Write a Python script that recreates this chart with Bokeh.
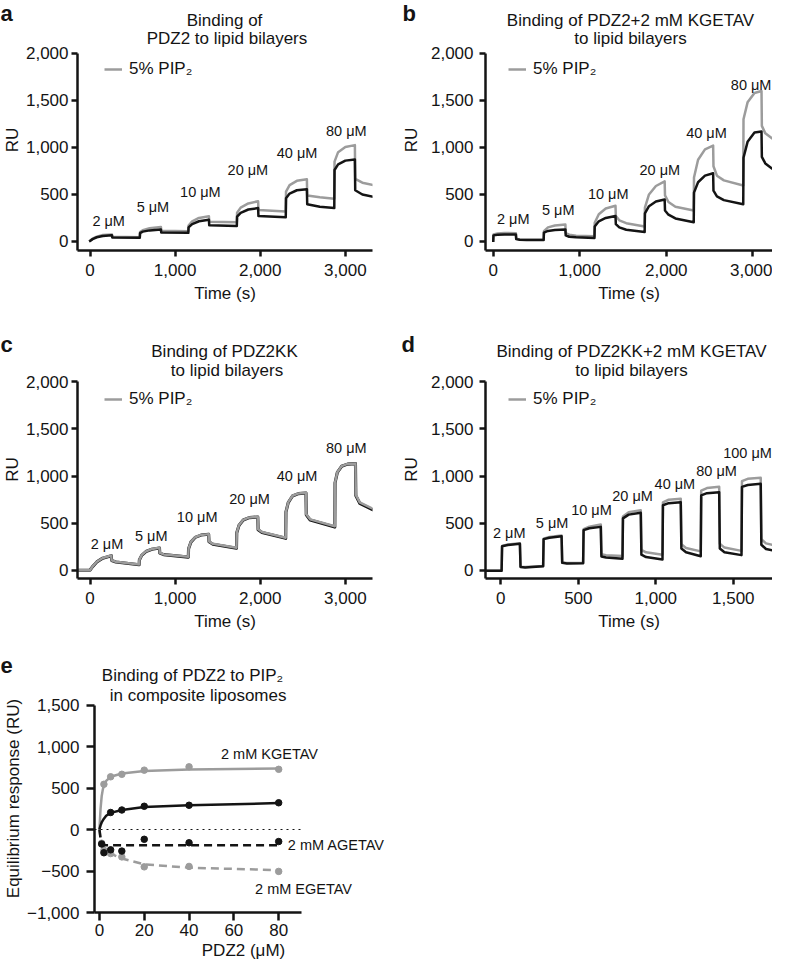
from bokeh.plotting import figure
from bokeh.models import Range1d, FixedTicker, Label, Legend, LegendItem, Title
from bokeh.layouts import column, row
from bokeh.embed import file_html
from bokeh.resources import INLINE

# ---------------- data ----------------
# Panel a: PDZ2 sensorgram (time s, RU)
a_time = [-10, 0, 30, 80, 150, 258, 262, 585, 588, 620, 700, 833, 837, 1155,
          1158, 1200, 1280, 1397, 1401, 1725, 1728, 1770, 1860, 1975, 1979, 2300,
          2303, 2345, 2430, 2548, 2552, 2700, 2870, 2873, 2915, 3000, 3112, 3116,
          3200, 3330]
a_black = [0, 5, 25, 45, 58, 65, 42, 40, 90, 105, 118, 128, 95, 92,
           150, 185, 215, 232, 172, 165, 265, 305, 340, 355, 270, 258,
           460, 510, 545, 555, 395, 370, 355, 760, 820, 860, 872, 545, 500, 475]
a_grey = [0, 8, 30, 52, 68, 75, 50, 45, 100, 120, 140, 155, 115, 110,
          170, 215, 250, 268, 210, 205, 305, 360, 405, 428, 335, 320,
          530, 600, 645, 662, 490, 470, 455, 850, 950, 1005, 1025, 665, 625, 600]

# Panel b: PDZ2 + 2 mM KGETAV
b_time = [0, 3, 50, 130, 262, 266, 306, 386, 583, 586, 633, 713, 834, 838, 878,
          958, 1170, 1173, 1220, 1300, 1413, 1417, 1457, 1537, 1750, 1753, 1800,
          1880, 1981, 1985, 2025, 2105, 2317, 2320, 2367, 2447, 2541, 2545, 2585,
          2665, 2889, 2892, 2939, 3019, 3100, 3104, 3144, 3224, 3330]
b_black = [-5, 65, 72, 75, 75, 25, 18, 15, 15, 95, 112, 122, 128, 65, 50,
           44, 38, 160, 215, 250, 270, 185, 150, 125, 100, 300, 375,
           425, 447, 330, 285, 245, 205, 520, 630, 700, 725, 540, 480,
           440, 395, 890, 1060, 1160, 1170, 900, 830, 775, 735]
b_grey = [-5, 75, 85, 90, 88, 30, 22, 18, 18, 110, 150, 170, 180, 90, 72,
          62, 55, 200, 290, 350, 380, 270, 225, 195, 160, 360, 500,
          590, 640, 490, 420, 370, 330, 680, 870, 980, 1020, 800, 700,
          650, 596, 1300, 1480, 1580, 1600, 1230, 1150, 1095, 1060]

# Panel c: PDZ2KK
c_time = [-140, 0, 3, 30, 80, 150, 250, 254, 304, 577, 580, 607, 657, 727, 816,
          820, 866, 1155, 1158, 1185, 1235, 1305, 1394, 1398, 1444, 1721, 1724,
          1751, 1801, 1871, 1971, 1975, 2021, 2299, 2302, 2329, 2379, 2449, 2537,
          2541, 2587, 2876, 2879, 2906, 2956, 3026, 3119, 3123, 3169, 3330]
c_black = [0, 0, 5, 38, 88, 128, 154, 103, 88, 58, 108, 158, 198, 223, 236,
           182, 165, 139, 228, 298, 348, 373, 381, 302, 276, 234, 398,
           478, 533, 558, 565, 430, 400, 338, 618, 718, 788, 813, 820,
           588, 532, 458, 928, 1038, 1103, 1126, 1131, 792, 710, 638]
c_grey = [0, 0, 5, 40, 90, 130, 156, 105, 90, 60, 110, 160, 200, 225, 238,
          185, 168, 142, 230, 300, 350, 375, 383, 305, 280, 238, 400,
          480, 535, 560, 567, 435, 405, 344, 620, 720, 790, 815, 822,
          595, 540, 467, 930, 1040, 1105, 1128, 1133, 800, 720, 650]

# Panel d: PDZ2KK + 2 mM KGETAV
d_time = [-100, 5, 8, 45, 123, 127, 157, 273, 276, 313, 392, 396, 426, 531, 534,
          571, 645, 649, 679, 785, 788, 825, 903, 907, 937, 1043, 1046, 1083,
          1161, 1165, 1195, 1290, 1293, 1330, 1409, 1413, 1443, 1553, 1556, 1593,
          1677, 1681, 1711, 1806]
d_black = [-5, -5, 255, 268, 280, 35, 30, 42, 330, 345, 361, 78, 72, 75, 425,
           445, 460, 145, 135, 121, 550, 590, 609, 165, 140, 114, 690, 712,
           722, 230, 190, 149, 795, 818, 828, 230, 190, 160, 885, 905,
           917, 270, 225, 191]
d_grey = [-5, -5, 258, 272, 285, 38, 33, 45, 335, 352, 368, 82, 76, 78, 435,
          462, 485, 170, 160, 150, 570, 615, 637, 215, 190, 165, 720, 748,
          758, 275, 235, 200, 845, 872, 885, 280, 240, 205, 945, 970,
          981, 330, 285, 248]

# concentration annotations (time s, RU)
conc_text = ["2 μM", "5 μM", "10 μM", "20 μM", "40 μM", "80 μM"]
conc_text_d = ["2 μM", "5 μM", "10 μM", "20 μM", "40 μM", "80 μM", "100 μM"]
a_lab_t = [219, 739, 1297, 1855, 2433, 3011]
a_lab_ru = [216, 369, 524, 759, 944, 1173]
b_lab_t = [231, 751, 1329, 1925, 2464, 2980]
b_lab_ru = [241, 333, 507, 759, 1156, 1660]
c_lab_t = [200, 720, 1259, 1875, 2433, 3011]
c_lab_ru = [273, 368, 563, 758, 998, 1292]
d_lab_t = [54, 331, 585, 850, 1123, 1392, 1592]
d_lab_ru = [397, 496, 634, 786, 917, 1058, 1239]

# Panel e: equilibrium response vs PDZ2 (μM)
e_k_conc = [2, 5, 10, 20, 40, 80]
e_k_pts = [545, 635, 665, 715, 755, 725]
e_k_fit_x = [0, 0.5, 1, 1.5, 2, 3, 5, 10, 20, 40, 80]
e_k_fit_y = [0, 250, 400, 480, 530, 585, 635, 675, 705, 722, 735]

e_p_conc = [5, 10, 20, 40, 80]
e_p_pts = [205, 235, 280, 292, 322]
e_p_fit_x = [0, 0.5, 1, 2, 3, 5, 10, 20, 40, 80]
e_p_fit_y = [0, 50, 85, 130, 165, 200, 235, 270, 293, 318]

e_a_conc = [1, 2, 5, 10, 20, 40, 80]
e_a_pts = [-175, -280, -245, -260, -118, -160, -145]
e_a_fit_x = [0, 0.5, 1, 2, 80]
e_a_fit_y = [0, -110, -160, -190, -190]

e_e_conc = [1, 2, 5, 10, 20, 40, 80]
e_e_pts = [-165, -250, -290, -330, -450, -445, -505]
e_e_fit_x = [0, 0.5, 1, 2, 5, 10, 20, 40, 80]
e_e_fit_y = [0, -100, -160, -220, -290, -350, -420, -460, -490]

e_zero_x = [-2.2, 90.3]
e_zero_y = [0, 0]

e_names = ["2 mM KGETAV", "2 mM AGETAV", "2 mM EGETAV"]
e_name_x = [75.9, 105.7, 91.1]
e_name_y = [913, -189, -720]

# ticks
ru_ticks = [0, 500, 1000, 1500, 2000]
ru_tick_labels = ["0", "500", "1,000", "1,500", "2,000"]
time_ticks = [0, 1000, 2000, 3000]
time_tick_labels = ["0", "1,000", "2,000", "3,000"]
time_ticks_d = [0, 500, 1000, 1500]
time_tick_labels_d = ["0", "500", "1,000", "1,500"]
e_x_ticks = [0, 20, 40, 60, 80]
e_x_tick_labels = ["0", "20", "40", "60", "80"]
e_y_ticks = [-1000, -500, 0, 500, 1000, 1500]
e_y_tick_labels = ["\u22121,000", "\u2212500", "0", "500", "1,000", "1,500"]

# ---------------- style / layout ----------------
FONT = "Liberation Sans"
BLACK = "#141414"
GREY = "#9c9c9c"
LW = 2.5

# main plot geometry in page pixels (ox, oy = canvas origin); the frame reaches up
# to hold the second title line, the y axis itself stops at its last tick (yb)
GEOM = {
    "a": dict(w=393, h=286, ox=8, oy=30, fl=80, ft=30, fw=300, fh=221,
              xr=(-147, 3319), yr=(-96, 2255), yb=(-96, 2000), ylab_off=-11.5),
    "b": dict(w=379, h=286, ox=401, oy=30, fl=493, ft=30, fw=287, fh=221,
              xr=(-89, 3227), yr=(-96, 2255), yb=(-96, 2000), ylab_off=-11.5),
    "c": dict(w=393, h=279, ox=8, oy=361, fl=80, ft=361, fw=300, fh=218,
              xr=(-147, 3319), yr=(-88, 2226), yb=(-88, 2000), ylab_off=-11),
    "d": dict(w=379, h=279, ox=401, oy=361, fl=493, ft=361, fw=287, fh=218,
              xr=(-99, 1753), yr=(-88, 2226), yb=(-88, 2000), ylab_off=-11),
    "e": dict(w=392, h=276, ox=8, oy=685, fl=98, ft=685, fw=302, fh=228,
              xr=(-2.2, 130.8), yr=(-1000, 1747), yb=(-1000, 1500), ylab_off=-10),
}
# header strips (first title line and panel letter): (width, height, ox, oy)
HEAD = {
    "a": (393, 29, 8, 1),
    "b": (379, 29, 401, 1),
    "c": (393, 45, 8, 316),
    "d": (379, 45, 401, 316),
    "e": (392, 45, 8, 640),
}


def no_align(p):
    try:
        p.frame_align = False
    except Exception:
        pass


def to_data(g, px, py):
    x0, x1 = g["xr"]
    y0, y1 = g["yr"]
    x = x0 + (px - g["fl"]) / g["fw"] * (x1 - x0)
    y = y1 - (py - g["ft"]) / g["fh"] * (y1 - y0)
    return x, y


def base_fig(g):
    left = g["fl"] - g["ox"]
    top = g["ft"] - g["oy"]
    right = g["w"] - left - g["fw"]
    bottom = g["h"] - top - g["fh"]
    p = figure(width=g["w"], height=g["h"],
               x_range=Range1d(*g["xr"]), y_range=Range1d(*g["yr"]),
               output_backend="svg", toolbar_location=None, tools="",
               min_border_left=left, min_border_right=right,
               min_border_top=top, min_border_bottom=bottom)
    p.grid.visible = False
    p.outline_line_color = None
    p.background_fill_color = "white"
    p.border_fill_color = "white"
    no_align(p)
    return p


def style_axis(ax, ticks, labels, label, tick_out, std, lab_std):
    ax.ticker = FixedTicker(ticks=ticks)
    ax.major_label_overrides = {t: s for t, s in zip(ticks, labels)}
    ax.axis_label = label
    ax.axis_line_width = LW
    ax.axis_line_color = BLACK
    ax.major_tick_line_width = LW
    ax.major_tick_line_color = BLACK
    ax.major_tick_out = tick_out
    ax.major_tick_in = 0
    ax.minor_tick_line_color = None
    ax.major_label_text_font = FONT
    ax.major_label_text_font_size = "17px"
    ax.major_label_text_color = BLACK
    ax.major_label_standoff = std
    ax.axis_label_text_font = FONT
    ax.axis_label_text_font_size = "17px"
    ax.axis_label_text_font_style = "normal"
    ax.axis_label_text_color = BLACK
    ax.axis_label_standoff = lab_std


def side_title(p, text, side, offset, standoff):
    p.add_layout(Title(text=text, align="center", offset=offset, standoff=standoff,
                       text_font=FONT, text_font_size="17px", text_font_style="normal",
                       text_color=BLACK), side)


def text_label(p, x, y, s, size="17px", align="center", bold=False):
    p.add_layout(Label(x=x, y=y, text=s, text_font=FONT, text_font_size=size,
                       text_color=BLACK, text_align=align, text_baseline="middle",
                       text_font_style="bold" if bold else "normal"))


def header(key, title, title_pos, letter, letter_pos):
    w, h, ox, oy = HEAD[key]
    p = figure(width=w, height=h, x_range=Range1d(0, w), y_range=Range1d(h, 0),
               x_axis_location=None, y_axis_location=None,
               output_backend="svg", toolbar_location=None, tools="",
               min_border=0, min_border_left=0, min_border_right=0,
               min_border_top=0, min_border_bottom=0)
    p.grid.visible = False
    p.outline_line_color = None
    p.background_fill_color = "white"
    p.border_fill_color = "white"
    no_align(p)
    text_label(p, title_pos[0] - ox, title_pos[1] - oy, title)
    text_label(p, letter_pos[0] - ox, letter_pos[1] - oy, letter, size="22px",
               align="left", bold=True)
    return p


def sensorgram(key, t, black, grey, black_on_top, lab_t, lab_ru, lab_txt,
               xticks, xlabels, y_std, y_title_standoff, legend_loc, title2, title2_pos):
    g = GEOM[key]
    p = base_fig(g)
    style_axis(p.xaxis[0], xticks, xlabels, "Time (s)", 6, 7, 5)
    style_axis(p.yaxis[0], ru_ticks, ru_tick_labels, None, 6, y_std, 0)
    p.yaxis[0].bounds = g["yb"]
    side_title(p, "RU", "left", g["ylab_off"], y_title_standoff)
    if black_on_top:
        rg = p.line(t, grey, line_color=GREY, line_width=LW, line_join="round")
        p.line(t, black, line_color=BLACK, line_width=LW, line_join="round")
    else:
        p.line(t, black, line_color=BLACK, line_width=LW + 0.6, line_join="round")
        rg = p.line(t, grey, line_color=GREY, line_width=LW, line_join="round")
    leg = Legend(items=[LegendItem(label="5% PIP\u2082", renderers=[rg])],
                 location=legend_loc, padding=3, margin=0, spacing=0,
                 glyph_width=18, glyph_height=20, label_height=20,
                 label_standoff=7, border_line_color=None,
                 background_fill_alpha=0, label_text_font=FONT,
                 label_text_font_size="17px", label_text_color=BLACK)
    p.add_layout(leg)
    for tt, rr, s in zip(lab_t, lab_ru, lab_txt):
        text_label(p, tt, rr, s, size="14.5px")
    x2, y2 = to_data(g, *title2_pos)
    text_label(p, x2, y2, title2)
    return p


ha = header("a", "Binding of", (232, 21), "a", (8, 14))
hb = header("b", "Binding of PDZ2+2 mM KGETAV", (638, 21), "b", (410, 14))
hc = header("c", "Binding of PDZ2KK", (232, 351.7), "c", (8, 345))
hd = header("d", "Binding of PDZ2KK+2 mM KGETAV", (639, 351.7), "d", (409, 345))
he = header("e", "Binding of PDZ2 to PIP\u2082", (200, 676), "e", (8, 666))

pa = sensorgram("a", a_time, a_black, a_grey, True, a_lab_t, a_lab_ru, conc_text,
                time_ticks, time_tick_labels, 3, 1, (27, 171),
                "PDZ2 to lipid bilayers", (232, 39.3))
pb = sensorgram("b", b_time, b_black, b_grey, True, b_lab_t, b_lab_ru, conc_text,
                time_ticks, time_tick_labels, 6, 13, (23, 171),
                "to lipid bilayers", (638, 39.3))
pc = sensorgram("c", c_time, c_black, c_grey, False, c_lab_t, c_lab_ru, conc_text,
                time_ticks, time_tick_labels, 3, 1, (27, 169),
                "to lipid bilayers", (232, 370.7))
pd_ = sensorgram("d", d_time, d_black, d_grey, True, d_lab_t, d_lab_ru, conc_text_d,
                 time_ticks_d, time_tick_labels_d, 6, 13, (23, 169),
                 "to lipid bilayers", (639, 370.7))

# ---------------- panel e ----------------
ge = GEOM["e"]
pe = base_fig(ge)
style_axis(pe.xaxis[0], e_x_ticks, e_x_tick_labels, None, 8, 3, 0)
style_axis(pe.yaxis[0], e_y_ticks, e_y_tick_labels, None, 8, 7, 0)
pe.xaxis[0].bounds = (e_zero_x[0], e_zero_x[1])
pe.yaxis[0].bounds = ge["yb"]
side_title(pe, "Equilibrium response (RU)", "left", ge["ylab_off"], 3)
side_title(pe, "PDZ2 (μM)", "below", -46, 0)
pe.line(e_zero_x, e_zero_y, line_color=BLACK, line_width=1.2, line_dash="dotted")
pe.line(e_e_fit_x, e_e_fit_y, line_color=GREY, line_width=LW, line_dash="8 5")
pe.scatter(e_e_conc, e_e_pts, marker="circle", size=6.5, color=GREY)
pe.line(e_a_fit_x, e_a_fit_y, line_color=BLACK, line_width=LW, line_dash="8 5")
pe.scatter(e_a_conc, e_a_pts, marker="circle", size=6.5, color=BLACK)
pe.line(e_k_fit_x, e_k_fit_y, line_color=GREY, line_width=LW)
pe.scatter(e_k_conc, e_k_pts, marker="circle", size=6.5, color=GREY)
pe.line(e_p_fit_x, e_p_fit_y, line_color=BLACK, line_width=LW)
pe.scatter(e_p_conc, e_p_pts, marker="circle", size=6.5, color=BLACK)
for s, x, y in zip(e_names, e_name_x, e_name_y):
    text_label(pe, x, y, s, size="14.5px")
x2, y2 = to_data(ge, 203, 696)
text_label(pe, x2, y2, "in composite liposomes")

layout = column(
    row(column(ha, pa), column(hb, pb)),
    row(column(hc, pc), column(hd, pd_)),
    row(column(he, pe)),
)
open("out.html", "w").write(file_html(layout, INLINE))
